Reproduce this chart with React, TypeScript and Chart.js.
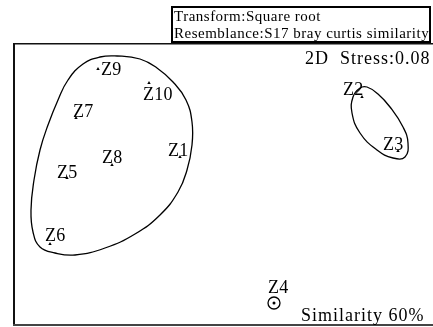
import React, { useEffect, useRef } from 'react';
import { Chart, registerables } from 'chart.js';

Chart.register(...registerables);

// ---- data (nMDS coordinates) ----
const sampleNames = ['Z1', 'Z2', 'Z3', 'Z4', 'Z5', 'Z6', 'Z7', 'Z8', 'Z9', 'Z10'];
const mdsX = [-0.43, 1.39, 1.75, 0.51, -1.56, -1.73, -1.47, -1.11, -1.25, -0.74];
const mdsY = [0.27, 0.87, 0.33, -1.19, 0.06, -0.6, 0.66, 0.19, 1.15, 1.01];

// 60% similarity contour around Z1, Z5-Z10
const blobX = [-1.06, -0.83, -0.66, -0.5, -0.37, -0.31, -0.31, -0.36, -0.45, -0.63, -0.88, -1.18, -1.48, -1.68, -1.83, -1.9, -1.92, -1.89, -1.83, -1.75, -1.65, -1.55, -1.4, -1.23];
const blobY = [1.28, 1.25, 1.16, 1.02, 0.84, 0.62, 0.39, 0.14, -0.08, -0.31, -0.5, -0.64, -0.71, -0.69, -0.63, -0.48, -0.26, 0.04, 0.34, 0.59, 0.84, 1.04, 1.2, 1.27];
// 60% similarity contour around Z2, Z3
const ellX = [1.44, 1.55, 1.67, 1.8, 1.85, 1.82, 1.7, 1.54, 1.37, 1.29, 1.3, 1.37];
const ellY = [0.97, 0.9, 0.77, 0.57, 0.41, 0.27, 0.26, 0.34, 0.51, 0.71, 0.87, 0.96];

const titleLines = ['Transform:Square root', 'Resemblance:S17 bray curtis similarity'];
const stressText = '2D  Stress:0.08';
const similarityText = 'Similarity 60%';

// label placement (pixel offsets from marker)
const labelDx = [-12, -19, -15, -6, -10, -5, -3, -10, 3, -6];
const labelDy = [-1, -2, -1, -10, 0, -3, -1, -2, 6, 17];

const FONT = '"Liberation Serif", "Times New Roman", serif';

function closedLoop(xs: number[], ys: number[]) {
  const n = xs.length;
  const pts: { x: number; y: number }[] = [];
  pts.push({ x: xs[n - 1], y: ys[n - 1] });
  for (let i = 0; i < n; i++) pts.push({ x: xs[i], y: ys[i] });
  pts.push({ x: xs[0], y: ys[0] });
  pts.push({ x: xs[1], y: ys[1] });
  return pts;
}

function loopDataset(xs: number[], ys: number[]) {
  const n = xs.length;
  return {
    type: 'scatter' as const,
    data: closedLoop(xs, ys),
    showLine: true,
    tension: 0.45,
    borderColor: '#000',
    borderWidth: 1.3,
    pointRadius: 0,
    segment: {
      borderColor: (ctx: any) =>
        ctx.p0DataIndex === 0 || ctx.p0DataIndex === n + 1 ? 'rgba(0,0,0,0)' : '#000',
    },
  };
}

const decorPlugin = {
  id: 'decor',
  afterDraw(chart: any) {
    const { ctx, chartArea, scales } = chart;
    const { left, top, right, bottom } = chartArea;
    ctx.save();
    // frame
    ctx.strokeStyle = '#111';
    ctx.lineWidth = 2;
    ctx.beginPath();
    ctx.moveTo(left + 1, top);
    ctx.lineTo(left + 1, bottom + 1);
    ctx.stroke();
    ctx.lineWidth = 1.5;
    ctx.beginPath();
    ctx.moveTo(left, top + 0.75);
    ctx.lineTo(right, top + 0.75);
    ctx.stroke();
    ctx.strokeStyle = '#444';
    ctx.lineWidth = 2;
    ctx.beginPath();
    ctx.moveTo(left, bottom);
    ctx.lineTo(right, bottom);
    ctx.stroke();

    ctx.fillStyle = '#000';
    ctx.textBaseline = 'alphabetic';
    ctx.textAlign = 'left';

    // sample labels
    ctx.font = `18px ${FONT}`;
    (ctx as any).letterSpacing = '0.3px';
    for (let i = 0; i < sampleNames.length; i++) {
      const px = scales.x.getPixelForValue(mdsX[i]);
      const py = scales.y.getPixelForValue(mdsY[i]);
      ctx.fillText(sampleNames[i], px + labelDx[i], py + labelDy[i]);
    }

    // stress / similarity
    (ctx as any).letterSpacing = '1px';
    ctx.fillText(stressText, 305, 64);
    ctx.fillText(similarityText, 301, 321);

    // title box
    ctx.strokeStyle = '#000';
    ctx.lineWidth = 2;
    ctx.strokeRect(172, 7, 258, 35);
    ctx.font = `15px ${FONT}`;
    (ctx as any).letterSpacing = '0.5px';
    ctx.fillText(titleLines[0], 174, 21);
    ctx.fillText(titleLines[1], 174, 38);
    (ctx as any).letterSpacing = '0px';
    ctx.restore();
  },
};

export default function App() {
  const ref = useRef<HTMLCanvasElement | null>(null);
  useEffect(() => {
    if (!ref.current) return;
    const tri = sampleNames.map((_, i) => i).filter((i) => i !== 3);
    const chart = new Chart(ref.current, {
      type: 'scatter',
      data: {
        datasets: [
          loopDataset(blobX, blobY) as any,
          loopDataset(ellX, ellY) as any,
          {
            data: tri.map((i) => ({ x: mdsX[i], y: mdsY[i] })),
            pointStyle: 'triangle',
            pointRadius: 2,
            backgroundColor: '#000',
            borderColor: '#000',
            borderWidth: 0,
          },
          {
            data: [{ x: mdsX[3], y: mdsY[3] }],
            pointStyle: 'circle',
            pointRadius: 6,
            backgroundColor: 'rgba(0,0,0,0)',
            borderColor: '#000',
            borderWidth: 1.3,
          },
          {
            data: [{ x: mdsX[3], y: mdsY[3] }],
            pointStyle: 'circle',
            pointRadius: 1.5,
            backgroundColor: '#000',
            borderWidth: 0,
          },
        ],
      },
      options: {
        animation: false,
        responsive: false,
        devicePixelRatio: 1,
        layout: { autoPadding: false, padding: { left: 13, top: 43, right: 0, bottom: 2 } },
        plugins: { legend: { display: false }, tooltip: { enabled: false }, title: { display: false } },
        scales: {
          x: { type: 'linear', min: -2.1, max: 2.1, display: false },
          y: { type: 'linear', min: -1.41, max: 1.41, display: false },
        },
      },
      plugins: [decorPlugin],
    });
    return () => chart.destroy();
  }, []);
  return (
    <div style={{ position: 'fixed', left: 0, top: 0, width: 433, height: 327, background: '#fff' }}>
      <canvas ref={ref} width={433} height={327} style={{ display: 'block' }} />
    </div>
  );
}
